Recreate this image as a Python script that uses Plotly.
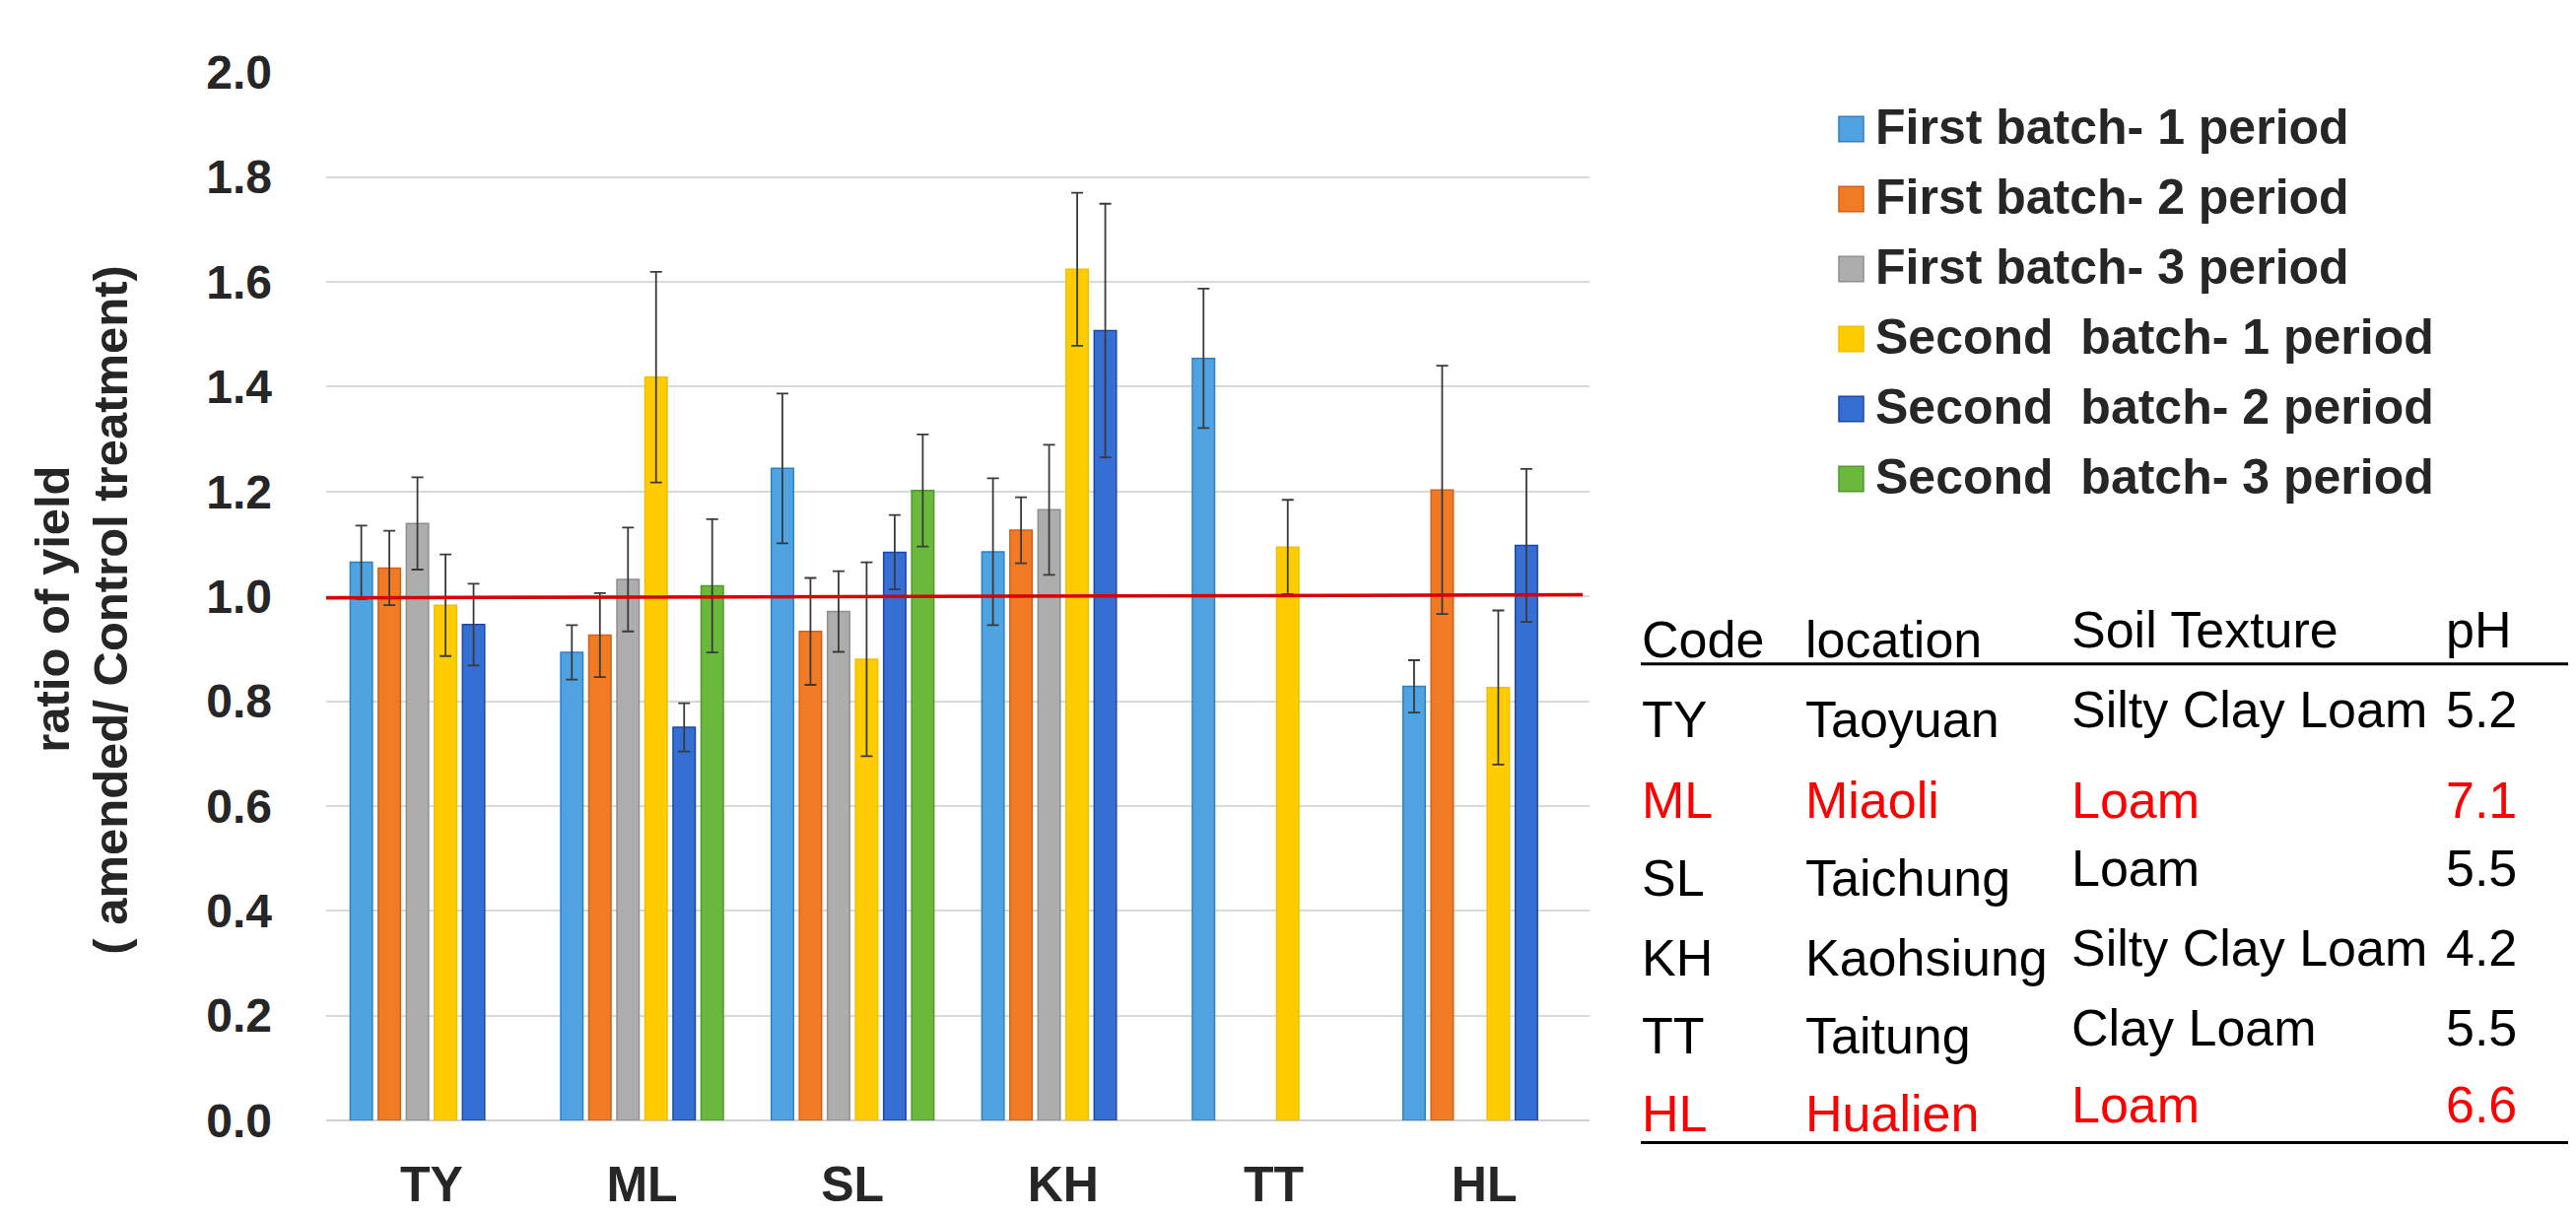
import plotly.graph_objects as go

# ---------------- data ----------------
categories = ["TY", "ML", "SL", "KH", "TT", "HL"]
series_names = [
    "First batch- 1 period",
    "First batch- 2 period",
    "First batch- 3 period",
    "Second  batch- 1 period",
    "Second  batch- 2 period",
    "Second  batch- 3 period",
]
first_1 = [1.065, 0.893, 1.244, 1.085, 1.454, 0.828]
first_1_err = [0.070, 0.052, 0.143, 0.140, 0.133, 0.050]
first_2 = [1.054, 0.926, 0.933, 1.126, None, 1.203]
first_2_err = [0.071, 0.080, 0.102, 0.063, None, 0.237]
first_3 = [1.139, 1.032, 0.971, 1.165, None, None]
first_3_err = [0.088, 0.099, 0.077, 0.124, None, None]
second_1 = [0.983, 1.418, 0.880, 1.624, 1.094, 0.826]
second_1_err = [0.097, 0.201, 0.185, 0.146, 0.090, 0.147]
second_2 = [0.946, 0.750, 1.084, 1.507, None, 1.097]
second_2_err = [0.078, 0.046, 0.071, 0.242, None, 0.146]
second_3 = [None, 1.020, 1.202, None, None, None]
second_3_err = [None, 0.127, 0.107, None, None, None]
reference_ratio = 1.0

y_ticks = [0.0, 0.2, 0.4, 0.6, 0.8, 1.0, 1.2, 1.4, 1.6, 1.8, 2.0]
y_title_lines = ["ratio of yield", "( amended/ Control treatment)"]

table_header = ["Code", "location", "Soil Texture", "pH"]
table_codes = ["TY", "ML", "SL", "KH", "TT", "HL"]
table_locations = ["Taoyuan", "Miaoli", "Taichung", "Kaohsiung", "Taitung", "Hualien"]
table_textures = ["Silty Clay Loam", "Loam", "Loam", "Silty Clay Loam", "Clay Loam", "Loam"]
table_ph = ["5.2", "7.1", "5.5", "4.2", "5.5", "6.6"]
table_highlight = [False, True, False, False, False, True]

# ---------------- styles ----------------
fills = ["#4FA3E0", "#F07B24", "#ADADAD", "#FFCC00", "#356FD4", "#6AB83C"]
edges = ["#2F80C6", "#D2601A", "#8F8F8F", "#F2BE00", "#1C47A8", "#4F9A2B"]
values = [first_1, first_2, first_3, second_1, second_2, second_3]
errors = [first_1_err, first_2_err, first_3_err, second_1_err, second_2_err, second_3_err]

W, H = 2614, 1234
L, R, T, B = 323, 1605, 65, 1147


def px(x):
    return (x - L) / (R - L)


def py(y):
    return (B - y) / (B - T)


FONT = "Liberation Sans, Arial, Helvetica, sans-serif"
DARK = "#262626"

fig = go.Figure()
for name, vals, errs, fc, ec in zip(series_names, values, errors, fills, edges):
    fig.add_trace(go.Bar(
        name=name, x=categories, y=vals,
        marker=dict(color=fc, line=dict(color=ec, width=1.5)),
        error_y=dict(type="data", array=errs, visible=True,
                     color="#3A3A3A", thickness=1.8, width=6),
        showlegend=False,
    ))

shapes = []
annotations = []

# reference line at ratio 1.0
shapes.append(dict(type="line", xref="paper", yref="y",
                   x0=0, x1=px(1598), y0=reference_ratio - 0.003,
                   y1=reference_ratio + 0.003,
                   line=dict(color="#D80000", width=3.5), layer="above"))

# custom legend
for i, (name, fc, ec) in enumerate(zip(series_names, fills, edges)):
    cy = 124 + 72.2 * i
    shapes.append(dict(type="rect", xref="paper", yref="paper",
                       x0=px(1858), x1=px(1883), y0=py(cy + 13), y1=py(cy - 13),
                       fillcolor=fc, line=dict(color=ec, width=1.5)))
    annotations.append(dict(xref="paper", yref="paper", x=px(1893), y=py(cy - 2),
                            xanchor="left", yanchor="middle", showarrow=False,
                            text=name.replace("  ", "&nbsp; "),
                            font=dict(family=FONT, size=50, color=DARK, weight="bold")))

# y axis title (two lines)
for lx, txt in zip([45, 104], y_title_lines):
    annotations.append(dict(xref="paper", yref="paper", x=px(lx), y=py(620),
                            xanchor="center", yanchor="middle", showarrow=False,
                            textangle=-90, text=txt,
                            font=dict(family=FONT, size=49, color=DARK, weight="bold")))

# table
col_x = [1656, 1822, 2092, 2472]
header_y = [651, 651, 641, 641]
for cx, hy, txt in zip(col_x, header_y, table_header):
    annotations.append(dict(xref="paper", yref="paper", x=px(cx), y=py(hy),
                            xanchor="left", yanchor="middle", showarrow=False,
                            text=txt, font=dict(family=FONT, size=52, color="black")))
row_y_left = [733, 816, 897, 979, 1060, 1140]
row_y_right = [723, 816, 887, 969, 1051, 1131]
for i in range(len(table_codes)):
    color = "#FF0000" if table_highlight[i] else "black"
    cells = [table_codes[i], table_locations[i], table_textures[i], table_ph[i]]
    ys = [row_y_left[i], row_y_left[i], row_y_right[i], row_y_right[i]]
    for cx, cy, txt in zip(col_x, ys, cells):
        annotations.append(dict(xref="paper", yref="paper", x=px(cx), y=py(cy),
                                xanchor="left", yanchor="middle", showarrow=False,
                                text=txt, font=dict(family=FONT, size=52, color=color)))
for ly in [676, 1170]:
    shapes.append(dict(type="line", xref="paper", yref="paper",
                       x0=px(1657), x1=px(2614), y0=py(ly), y1=py(ly),
                       line=dict(color="black", width=3)))

fig.update_layout(
    width=W, height=H,
    margin=dict(l=L, r=W - R, t=T, b=H - B, pad=0),
    paper_bgcolor="white", plot_bgcolor="white",
    barmode="group", bargap=0.2, bargroupgap=0.21,
    shapes=shapes, annotations=annotations,
    font=dict(family=FONT, color=DARK),
)
fig.update_xaxes(
    type="category", showgrid=False, showline=False, zeroline=False,
    tickfont=dict(family=FONT, size=50, color=DARK, weight="bold"),
    ticks="", ticklabelstandoff=31,
)
fig.update_yaxes(
    range=[0, 2.0005], tickvals=y_ticks, tickformat=".1f",
    showgrid=True, gridcolor="#D9D9D9", gridwidth=1.5,
    zeroline=True, zerolinecolor="#D0D0D0", zerolinewidth=2,
    showline=False, ticks="",
    tickfont=dict(family=FONT, size=48, color=DARK, weight="bold"),
    ticklabelstandoff=54,
)

fig.write_html("out.html")
